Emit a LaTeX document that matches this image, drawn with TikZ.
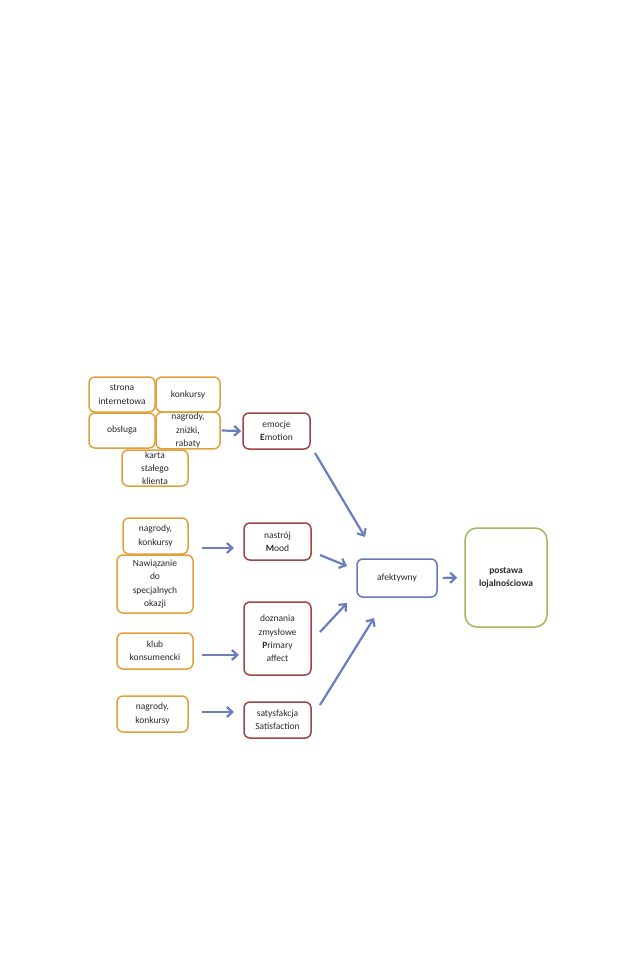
\documentclass[tikz,border=0pt]{standalone}
\usepackage{fontspec}
\setmainfont{Carlito}
\usetikzlibrary{arrows.meta}
\definecolor{orng}{HTML}{E3A03A}
\definecolor{rdb}{HTML}{A04444}
\definecolor{blu}{HTML}{6577BE}
\definecolor{arr}{HTML}{6B7DBF}
\definecolor{grn}{HTML}{9BBB59}
\definecolor{txt}{HTML}{2A2A2A}
\begin{document}
\begin{tikzpicture}[x=1pt,y=-1pt,
  base/.style={draw, fill=white, line width=1.5pt, rounded corners=6pt, align=center,
    inner sep=1pt, text=txt, font=\fontsize{9.5}{13.2}\selectfont},
  obox/.style={base, draw=orng},
  rbox/.style={base, draw=rdb},
  bbox/.style={base, draw=blu},
  gbox/.style={base, draw=grn, rounded corners=12pt},
  arw/.style={draw=arr, line width=2.2pt, -{Straight Barb[length=5.5pt,width=10pt]}}]
\useasboundingbox (0,0) rectangle (638,978);
\fill[white] (0,0) rectangle (638,978);
% orange sources
\node[obox, minimum width=66pt, minimum height=35pt] (strona) at (122,394.5) {strona\\internetowa};
\node[obox, minimum width=64pt, minimum height=35pt] (konk) at (188,394.5) {konkursy};
\node[obox, minimum width=66pt, minimum height=35pt] (obsl) at (122,430.5) {obsługa};
\node[obox, minimum width=64pt, minimum height=35pt] (nagr1) at (188,430.5) {nagrody,\\zniżki,\\rabaty};
\node[obox, minimum width=66pt, minimum height=36pt] (karta) at (155,468) {karta\\stałego\\klienta};
\node[obox, minimum width=65pt, minimum height=36pt] (nagr2) at (155.5,536) {nagrody,\\konkursy};
\node[obox, minimum width=76pt, minimum height=58pt] (nawi) at (155,584) {Nawiązanie\\do\\specjalnych\\okazji};
\node[obox, minimum width=76pt, minimum height=36pt] (klub) at (155,651) {klub\\konsumencki};
\node[obox, minimum width=71pt, minimum height=36pt] (nagr3) at (152.5,714) {nagrody,\\konkursy};
% red
\node[rbox, minimum width=67pt, minimum height=36pt] (emo) at (276.5,431) {emocje\\\textbf{E}motion};
\node[rbox, minimum width=67pt, minimum height=37pt] (nas) at (277.5,541.5) {nastrój\\\textbf{M}ood};
\node[rbox, minimum width=67pt, minimum height=73pt] (dozn) at (277.5,638.5) {doznania\\zmysłowe\\\textbf{P}rimary\\affect};
\node[rbox, minimum width=67pt, minimum height=36pt] (saty) at (277.5,720) {satysfakcja\\Satisfaction};
% blue, green
\node[bbox, minimum width=80pt, minimum height=38pt] (afek) at (397,578) {afektywny};
\node[gbox, minimum width=82pt, minimum height=99pt, font=\bfseries\fontsize{9.5}{13.2}\selectfont] (post) at (506,577.5) {postawa\\lojalnościowa};
% arrow end coordinates
\coordinate (a2s) at (202,548); \coordinate (a2e) at (234,548);
\coordinate (a3s) at (202,655); \coordinate (a3e) at (239,655);
\coordinate (a4s) at (202,712); \coordinate (a4e) at (234,712);
\coordinate (d1s) at (315,453); \coordinate (d1e) at (365,537);
\coordinate (d2s) at (320,555); \coordinate (d2e) at (347,566);
\coordinate (d3s) at (320,632); \coordinate (d3e) at (347,603);
\coordinate (d4s) at (320,705); \coordinate (d4e) at (374,618);
% arrows
\draw[arw, shorten <=1pt, shorten >=1pt] (nagr1.east) -- (emo.west);
\draw[arw] (a2s) -- (a2e);
\draw[arw] (a3s) -- (a3e);
\draw[arw] (a4s) -- (a4e);
\draw[arw] (d1s) -- (d1e);
\draw[arw] (d2s) -- (d2e);
\draw[arw] (d3s) -- (d3e);
\draw[arw] (d4s) -- (d4e);
\draw[arw, shorten <=5pt, shorten >=7pt] (afek.east) -- (post.west);
\end{tikzpicture}
\end{document}
